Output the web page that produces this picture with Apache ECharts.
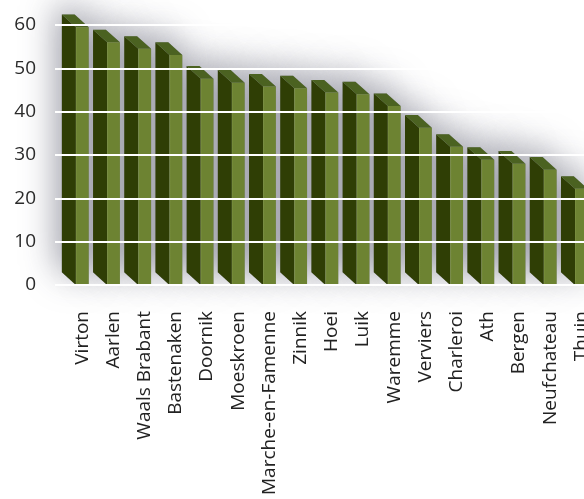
<!DOCTYPE html>
<html>
<head>
<meta charset="utf-8">
<script src="https://cdn.jsdelivr.net/npm/echarts@6/dist/echarts.min.js"></script>
<style>
  html, body { margin: 0; padding: 0; background: #ffffff; }
  #chart { width: 584px; height: 499px; }
</style>
</head>
<body>
<div id="chart"></div>
<script>
// Regions, in the order they are drawn
const regions = ['Virton', 'Aarlen', 'Waals Brabant', 'Bastenaken', 'Doornik', 'Moeskroen',
  'Marche-en-Famenne', 'Zinnik', 'Hoei', 'Luik', 'Waremme', 'Verviers', 'Charleroi',
  'Ath', 'Bergen', 'Neufchateau', 'Thuin'];
// One value per region
const values = [59.5, 56.0, 54.5, 53.1, 47.6, 46.7, 45.8, 45.4, 44.4, 44.0, 41.3,
  36.3, 31.9, 28.9, 28.0, 26.6, 22.2];
// Value axis ticks
const yTicks = [0, 10, 20, 30, 40, 50, 60];

const FRONT = '#6d8332';
const SIDE = '#2f3e05';
const TOP = '#4b6221';

// Geometry of a box-shaped bar: front face on the category, depth receding up and to the left
function boxGeometry(api) {
  const idx = api.value(0);
  const top = api.coord([idx, api.value(1)]);
  const base = api.coord([idx, 0]);
  const bw = api.size([1, 0])[0];
  const w = bw * 0.41;
  const dx = bw * 0.45;
  const dy = bw * 0.405;
  return { x0: top[0] - w / 2, w, dx, dy, yt: top[1], yb: base[1] };
}

function silhouette(g) {
  return [
    [g.x0 - g.dx, g.yt - g.dy],
    [g.x0 - g.dx + g.w, g.yt - g.dy],
    [g.x0 + g.w, g.yt],
    [g.x0 + g.w, g.yb],
    [g.x0, g.yb],
    [g.x0 - g.dx, g.yb - g.dy]
  ];
}

function renderShadow(params, api) {
  const g = boxGeometry(api);
  return {
    type: 'polygon',
    shape: { points: silhouette(g) },
    style: {
      fill: '#9a9ca6',
      shadowBlur: 34,
      shadowColor: 'rgba(55,57,78,0.55)',
      shadowOffsetX: -4,
      shadowOffsetY: -9
    },
    silent: true
  };
}

function renderBox(params, api) {
  const g = boxGeometry(api);
  return {
    type: 'group',
    children: [
      {
        type: 'polygon',
        shape: { points: [
          [g.x0 - g.dx, g.yt - g.dy], [g.x0, g.yt], [g.x0, g.yb], [g.x0 - g.dx, g.yb - g.dy]
        ] },
        style: { fill: SIDE }
      },
      {
        type: 'polygon',
        shape: { points: [
          [g.x0 - g.dx, g.yt - g.dy], [g.x0 - g.dx + g.w, g.yt - g.dy], [g.x0 + g.w, g.yt], [g.x0, g.yt]
        ] },
        style: { fill: TOP }
      },
      {
        type: 'rect',
        shape: { x: g.x0, y: g.yt, width: g.w, height: g.yb - g.yt },
        style: {
          fill: {
            type: 'linear', x: 0, y: 0, x2: 1, y2: 0,
            colorStops: [
              { offset: 0, color: '#7a9040' },
              { offset: 0.12, color: FRONT },
              { offset: 1, color: FRONT }
            ]
          }
        }
      }
    ]
  };
}

const seriesData = values.map((v, i) => [i, v]);

const chart = echarts.init(document.getElementById('chart'), null, { renderer: 'canvas' });
chart.setOption({
  animation: false,
  backgroundColor: '#ffffff',
  grid: [
    { left: 55, right: 0, top: 25, bottom: 214, outerBoundsMode: 'none' },
    { left: 66.7, right: -13, top: 25, bottom: 214, outerBoundsMode: 'none' }
  ],
  xAxis: [
    { gridIndex: 0, type: 'value', show: false, min: 0, max: 1 },
    {
      gridIndex: 1,
      type: 'category',
      data: regions,
      axisLine: { show: false },
      axisTick: { show: false },
      splitLine: { show: false },
      axisLabel: {
        interval: 0,
        rotate: 90,
        margin: 26,
        fontFamily: 'Open Sans',
        fontSize: 19,
        color: '#222222'
      }
    }
  ],
  yAxis: [
    {
      gridIndex: 0,
      type: 'value',
      min: 0,
      max: 60,
      interval: 10,
      z: 10,
      axisLine: { show: false },
      axisTick: { show: false },
      splitLine: { show: true, lineStyle: { color: '#ffffff', width: 2 } },
      axisLabel: {
        margin: 19,
        fontFamily: 'Open Sans',
        fontSize: 19,
        color: '#2a2a2a',
        padding: [0, 0, 9, 0],
        formatter: v => (yTicks.includes(v) ? String(v) : '')
      }
    },
    { gridIndex: 1, type: 'value', min: 0, max: 60, interval: 10, show: false }
  ],
  series: [
    {
      type: 'custom',
      name: 'shadow',
      xAxisIndex: 1,
      yAxisIndex: 1,
      z: 1,
      silent: true,
      renderItem: renderShadow,
      encode: { x: 0, y: 1 },
      data: seriesData
    },
    {
      type: 'custom',
      name: 'bars',
      xAxisIndex: 1,
      yAxisIndex: 1,
      z: 2,
      renderItem: renderBox,
      encode: { x: 0, y: 1 },
      data: seriesData
    }
  ]
});
</script>
</body>
</html>
